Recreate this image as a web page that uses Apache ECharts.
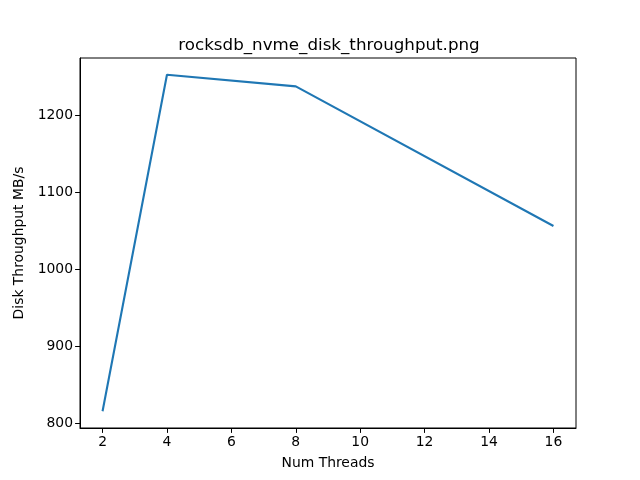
<!DOCTYPE html>
<html>
<head>
<meta charset="utf-8">
<script src="https://cdn.jsdelivr.net/npm/echarts@6/dist/echarts.min.js"></script>
<style>
  html, body { margin: 0; padding: 0; background: #fff; }
  #chart { width: 640px; height: 480px; }
</style>
</head>
<body>
<div id="chart"></div>
<script>
var threads = [2, 4, 8, 16];
var throughput = [816, 1252, 1237, 1056];
var xTicks = [2, 4, 6, 8, 10, 12, 14, 16];
var yTicks = [800, 900, 1000, 1100, 1200];

var chart = echarts.init(document.getElementById('chart'));

var font = 'DejaVu Sans';
var tickFont = { fontFamily: font, fontSize: 13.9, color: '#000' };

// matplotlib style padding of 5% on each side
var xPad = (threads[threads.length - 1] - threads[0]) * 0.05;
var yMin = Math.min.apply(null, throughput);
var yMax = Math.max.apply(null, throughput);
var yPad = (yMax - yMin) * 0.05;

var option = {
  animation: false,
  backgroundColor: '#fff',
  title: {
    text: 'rocksdb_nvme_disk_throughput.png',
    left: 324,
    top: 32,
    textAlign: 'center',
    textStyle: { fontFamily: font, fontSize: 16.7, fontWeight: 'normal', color: '#000' }
  },
  grid: {
    left: 80, right: 64, top: 58, bottom: 52,
    show: true, borderColor: '#000', borderWidth: 1, backgroundColor: 'transparent'
  },
  xAxis: {
    type: 'value',
    min: threads[0] - xPad,
    max: threads[threads.length - 1] + xPad,
    name: 'Num Threads',
    nameLocation: 'middle',
    nameGap: 28,
    nameTextStyle: { fontFamily: font, fontSize: 13.9, color: '#000' },
    axisLine: { show: true, onZero: false, lineStyle: { color: '#000', width: 1 } },
    axisTick: { show: true, length: 4.9, customValues: xTicks, lineStyle: { color: '#000' } },
    axisLabel: Object.assign({ customValues: xTicks, margin: 7 }, tickFont),
    splitLine: { show: false }
  },
  yAxis: {
    type: 'value',
    min: yMin - yPad,
    max: yMax + yPad,
    name: 'Disk Throughput MB/s',
    nameLocation: 'middle',
    nameGap: 44,
    nameTextStyle: { fontFamily: font, fontSize: 13.9, color: '#000' },
    axisLine: { show: true, lineStyle: { color: '#000', width: 1 } },
    axisTick: { show: true, length: 4.9, customValues: yTicks, lineStyle: { color: '#000' } },
    axisLabel: Object.assign({
      customValues: yTicks,
      margin: 7,
      formatter: function (v) { return String(v); }
    }, tickFont),
    splitLine: { show: false }
  },
  series: [{
    type: 'line',
    data: threads.map(function (t, i) { return [t, throughput[i]]; }),
    showSymbol: false,
    lineStyle: { color: '#1f77b4', width: 2.1 },
    itemStyle: { color: '#1f77b4' }
  }]
};

chart.setOption(option);
</script>
</body>
</html>
